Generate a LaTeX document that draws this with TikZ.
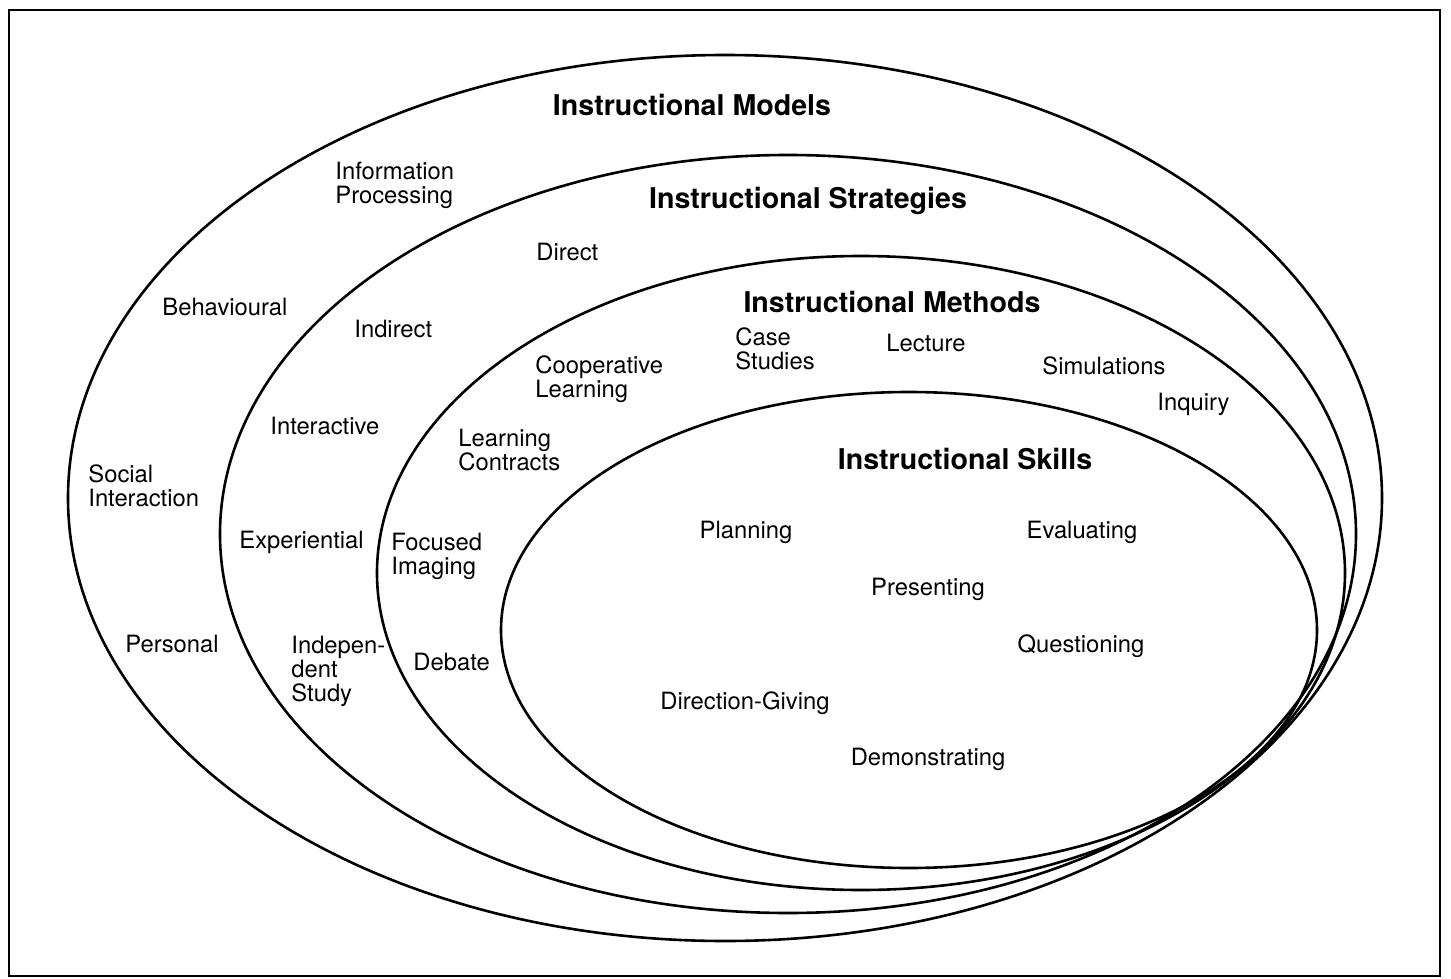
\documentclass[tikz,border=0pt]{standalone}
\usepackage{fontspec}
\setmainfont{TeX Gyre Heros}
\usetikzlibrary{positioning}
\tikzset{ring/.style = {line width = 1.3pt}}
\tikzset{item/.style = {anchor = west, align = left, inner sep = 0, yshift = -1pt,
                        font = \fontsize{11.9}{12}\selectfont}}
\tikzset{skill/.style = {item, anchor = center}}
\tikzset{head/.style = {inner sep = 0, font = \fontsize{14.3}{16}\selectfont\bfseries}}

\begin{document}
\begin{tikzpicture}[x=0.5pt, y=-0.5pt]
      \useasboundingbox (0, 0) rectangle (1451, 979);
      \draw [line width = 1.4pt] (9, 10) rectangle (1440, 976);

      \draw [ring] (725, 498) ellipse [x radius = 657, y radius = 443];
      \draw [ring] (788, 534) ellipse [x radius = 568, y radius = 379];
      \draw [ring] (861, 573) ellipse [x radius = 484, y radius = 317];
      \draw [ring] (909, 630) ellipse [x radius = 408, y radius = 238];

      \node (models) at (692, 105) [head] {Instructional Models};
      \node (strategies) at (808, 201) [head] {Instructional Strategies};
      \node (methods) at (892, 302) [head] {Instructional Methods};
      \node (skills) at (965, 459) [head] {Instructional Skills};

      % models
      \node (infoproc) at (335, 183) [item] {Information\\Processing};
      \node (behav) at (162, 305) [item] {Behavioural};
      \node (social) at (88, 484) [item] {Social\\Interaction};
      \node (personal) at (125, 642) [item] {Personal};

      % strategies
      \node (direct) at (536, 250) [item] {Direct};
      \node (indirect) at (354, 327) [item] {Indirect};
      \node (interactive) at (270, 424) [item] {Interactive};
      \node (experiential) at (239, 540) [item] {Experiential};
      \node (independent) at (291, 669) [item] {Indepen-\\dent\\Study};

      % methods
      \node (coop) at (535, 377) [item] {Cooperative\\Learning};
      \node (case) at (735, 347) [item] {Case\\Studies};
      \node (lecture) at (886, 341) [item] {Lecture};
      \node (simul) at (1042, 364) [item] {Simulations};
      \node (inquiry) at (1157, 402) [item] {Inquiry};
      \node (contracts) at (458, 448) [item] {Learning\\Contracts};
      \node (imaging) at (391, 554) [item] {Focused\\Imaging};
      \node (debate) at (413, 660) [item] {Debate};

      % skills
      \node (planning) at (746, 530) [skill] {Planning};
      \node (evaluating) at (1082, 530) [skill] {Evaluating};
      \node (presenting) at (928, 587) [skill] {Presenting};
      \node (questioning) at (1081, 644) [skill] {Questioning};
      \node (direction) at (745, 701) [skill] {Direction-Giving};
      \node (demonstr) at (928, 757) [skill] {Demonstrating};
    \end{tikzpicture}
\end{document}
